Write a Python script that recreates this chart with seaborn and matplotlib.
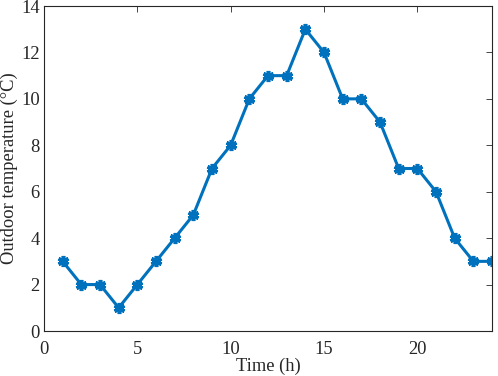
import numpy as np
import matplotlib
matplotlib.use("Agg")
import matplotlib.pyplot as plt
import pandas as pd
import seaborn as sns

sns.set_style("white")
plt.rcParams["font.family"] = ["Liberation Serif", "DejaVu Serif"]

# data
hours = list(range(1, 25))
temps = [3, 2, 2, 1, 2, 3, 4, 5, 7, 8, 10, 11, 11, 13, 12, 10, 10, 9, 7, 7, 6, 4, 3, 3]
x_ticks = [0, 5, 10, 15, 20]
y_ticks = [0, 2, 4, 6, 8, 10, 12, 14]

df = pd.DataFrame({"hour": hours, "temp": temps})

fig = plt.figure(figsize=(4.98, 3.76), dpi=100)
ax = fig.add_axes([44/498, 1 - 331/376, 448/498, 325/376])

sns.lineplot(data=df, x="hour", y="temp", color="#0072BD", linewidth=2.2,
             marker=(6, 2, 0), markersize=8, markeredgewidth=2.6,
             markeredgecolor="#0072BD", ax=ax)

ax.set_xlim(0, 24)
ax.set_ylim(0, 14)
ax.set_xticks(x_ticks)
ax.set_yticks(y_ticks)
ax.tick_params(direction="in", length=4, width=0.6, top=True, right=True,
               labelsize=13.3, colors="#262626", pad=3)
ax.tick_params(axis="x", pad=7)
for s in ax.spines.values():
    s.set_linewidth(0.8)
    s.set_color("#262626")

ax.set_xlabel("Time (h)", fontsize=13.3, labelpad=0)
ax.set_ylabel("Outdoor temperature (°C)", fontsize=13.3, labelpad=2)

fig.savefig("out.png", dpi=100)
